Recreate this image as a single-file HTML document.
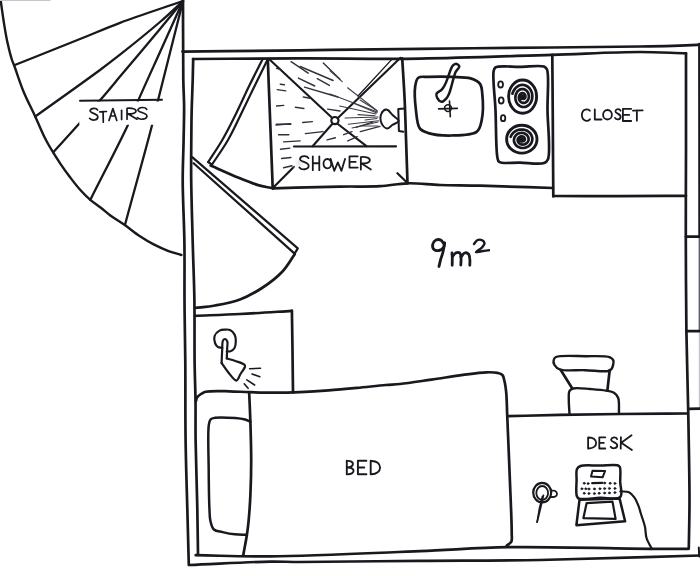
<!DOCTYPE html>
<html><head><meta charset="utf-8"><title>Floor plan</title>
<style>
html,body{margin:0;padding:0;background:#fff;}
body{width:700px;height:576px;overflow:hidden;font-family:"Liberation Sans",sans-serif;}
svg{display:block;}
</style></head>
<body>
<svg width="700" height="576" viewBox="0 0 700 576" stroke-linecap="round" stroke-linejoin="round">
<defs><radialGradient id="smudge"><stop offset="0" stop-color="#e4e0e3"/><stop offset="1" stop-color="#ffffff" stop-opacity="0"/></radialGradient></defs>
<rect x="0" y="0" width="700" height="576" fill="#fff"/>
<path d="M0.5,-1 C1.5,6.3 2.5,13.6 3.6,20.8 C4.7,27.8 5.8,35 7.3,41.7 C8.7,48 10.6,55.7 12,60 C12.8,62.4 13.2,63 14.2,65.5 C16.2,70.9 19.9,82.8 23.4,91.2 C26.9,99.8 31.5,108.3 35.2,116.4 C38.7,124 41.9,132.1 45.2,138.5 C47.8,143.7 50.3,147.8 53,152.2 C55.5,156.4 58.1,160.3 60.8,164.3 C63.6,168.4 66.4,172.4 69.5,176.5 C72.8,180.8 76.3,185.5 79.9,189.5 C83.3,193.3 86.7,196.8 90.3,199.9 C93.7,202.8 97.4,205.1 100.8,207.7 C104,210.2 106.5,212.6 110,215.2 C114.3,218.4 119.9,221.7 124.8,225.1 C129.8,228.6 134.6,232.7 139.6,236 C144.3,239.1 148.9,241.9 153.7,244.4 C158.4,246.8 163.2,249 167.9,250.8 C172.4,252.5 176.9,253.6 181.4,255" stroke="#18181f" stroke-width="2.4" fill="none"/>
<path d="M183,1 C162,8.3 138.5,15.8 120,22.8 C105.1,28.4 95,33 80,39 C60.8,46.7 36.1,56.5 14.2,65.3" stroke="#18181f" stroke-width="2.3" fill="none"/>
<path d="M183,1 C175.3,8 168.8,14.4 160,22 C148.6,31.8 131.1,45.9 120,54.7 C112.2,60.8 108.6,63.6 100,70 C84.6,81.4 56.8,101.1 35.2,116.6" stroke="#18181f" stroke-width="2.3" fill="none"/>
<path d="M183,1 C175.3,10.3 168.8,18.5 160,29 C148.5,42.8 131.1,63.5 120,76.6 C112.2,85.9 106.7,92.6 100,100.3 C93.6,107.8 87.7,114.3 80.7,122.1 C72.4,131.4 62.4,142.2 53.2,152.3" stroke="#18181f" stroke-width="2.3" fill="none"/>
<path d="M183,1 C175.5,17.7 168,34.4 160.5,51 C153.1,67.4 144.3,86.5 138.4,100.1 C134.2,109.8 132.7,114.6 127.9,125 C119.4,143.4 102.8,174.9 90.3,199.9" stroke="#18181f" stroke-width="2.3" fill="none"/>
<path d="M183,1 C174.8,33.8 163.8,77.1 158.3,99.3 C155.5,110.6 155,113.7 152.1,125 C146.4,147.4 134,191.5 125,224.8" stroke="#18181f" stroke-width="2.3" fill="none"/>
<path d="M0,0.4 L50,0.4" stroke="#c4c4cc" stroke-width="1.2" fill="none"/>
<rect x="79.3" y="101.5" width="83.5" height="23.3" fill="#fff"/>
<path d="M80,100.7 L162,99.8" stroke="#18181f" stroke-width="2" fill="none"/>
<path d="M0.92,0.16 C0.78,-0.04 0.2,-0.04 0.1,0.2 C0.02,0.44 0.95,0.42 0.94,0.72 C0.93,1.02 0.25,1.06 0.04,0.84" transform="translate(89.2 108.1) scale(9.200 12.200)" stroke="#18181f" stroke-width="1.7" fill="none" vector-effect="non-scaling-stroke"/>
<path d="M0,0.04 L1,0 M0.5,0.02 L0.53,1" transform="translate(99.8 111.5) scale(6.600 10.700)" stroke="#18181f" stroke-width="1.7" fill="none" vector-effect="non-scaling-stroke"/>
<path d="M0,1 L0.5,0 L1,1 M0.22,0.62 L0.78,0.62" transform="translate(109 108.6) scale(7.800 11.900)" stroke="#18181f" stroke-width="1.7" fill="none" vector-effect="non-scaling-stroke"/>
<path d="M0.5,0 L0.5,1" transform="translate(120.1 110.3) scale(3.000 9.200)" stroke="#18181f" stroke-width="1.7" fill="none" vector-effect="non-scaling-stroke"/>
<path d="M0.06,1 L0.06,0.02 C0.55,-0.04 0.95,0.1 0.9,0.3 C0.85,0.52 0.35,0.55 0.1,0.5 L1,1" transform="translate(126.4 108) scale(10.600 11.200)" stroke="#18181f" stroke-width="1.7" fill="none" vector-effect="non-scaling-stroke"/>
<path d="M0.92,0.16 C0.78,-0.04 0.2,-0.04 0.1,0.2 C0.02,0.44 0.95,0.42 0.94,0.72 C0.93,1.02 0.25,1.06 0.04,0.84" transform="translate(136.9 107.3) scale(10.700 12.200)" stroke="#18181f" stroke-width="1.7" fill="none" vector-effect="non-scaling-stroke"/>
<path d="M183,1 C183.1,27.3 183,60.8 183.3,80 C183.5,91 184,96.8 184.1,106 C184.2,116.6 183.8,128.2 183.6,140 C183.4,152.8 182.7,165.2 182.7,180 C182.7,198.4 184.1,221.7 184.4,242 C184.7,261.7 184.4,280.3 184.5,300 C184.6,320.3 185.1,340.1 185.3,362 C185.5,386.5 185.2,414.9 185.6,440 C185.9,463.4 186.7,486.3 187.3,508 C187.8,527.8 188.3,546 188.8,565" stroke="#18181f" stroke-width="2.7" fill="none"/>
<path d="M182.5,51.6 C221.7,51.2 260.6,50.8 300,50.3 C339.8,49.8 379,49.3 420,48.8 C463,48.3 512.4,47.9 552,47.5 C584.3,47.2 613.8,47 640,46.5 C661.1,46.1 689,45.2 697,44.8 C699.1,44.7 699.7,44.6 701,44.5" stroke="#18181f" stroke-width="2.7" fill="none"/>
<path d="M699.3,44 L699.5,237" stroke="#18181f" stroke-width="2.4" fill="none"/>
<path d="M699.5,237 L699.5,331" stroke="#60606a" stroke-width="1.8" fill="none"/>
<path d="M699.5,331 L699.5,408" stroke="#c4c4cc" stroke-width="1.4" fill="none"/>
<path d="M698.8,547.5 L699.2,556.5" stroke="#18181f" stroke-width="2" fill="none"/>
<path d="M189.3,565 C216.2,563.9 249.6,561.9 270,561.6 C282.4,561.4 286.7,562 300,562 C326.7,562 380,561.1 420,560.8 C460,560.5 497.1,560.7 540,560 C589.5,559.1 646.7,557 700,555.5" stroke="#18181f" stroke-width="2.7" fill="none"/>
<path d="M193.2,59 C193,66 192.9,72.2 192.7,80 C192.4,90 191.8,103.4 191.6,114 C191.4,123.2 191.4,130.4 191.3,140 C191.2,151.9 191,165.2 191.2,180 C191.4,198.4 192.2,221.7 192.7,242 C193.2,261.7 194.1,280.3 194.4,300 C194.7,320.3 194.4,343.9 194.6,362 C194.8,376.2 195.3,387.2 195.5,400 C195.7,413.2 195.4,424.9 195.6,440 C195.9,459.7 196.9,487.4 197.3,508 C197.6,525.1 197.8,539.3 198,555" stroke="#18181f" stroke-width="2.7" fill="none"/>
<path d="M193,59 C228.7,58.8 263.3,58.5 300,58.4 C338.9,58.3 379.1,59.2 420,58.6 C463,58 512.4,56 552,54.8 C584.3,53.8 615.4,52 640,52 C657.8,52 670.7,52.9 686,53.3" stroke="#18181f" stroke-width="2.7" fill="none"/>
<path d="M686,53.3 C686,85.5 686,118.6 686,150 C686,179.8 685.7,207.4 685.8,237 C685.9,267.7 686,301 686.4,331 C686.8,358.5 687.7,382.8 688.2,410 C688.7,439 689.5,474.6 689.5,500 C689.5,518.6 689,532.3 688.8,548.5" stroke="#18181f" stroke-width="2.7" fill="none"/>
<path d="M195.7,555.2 C220.5,555.6 240.9,556.7 270,556.4 C311.3,556 376.6,552.9 420,551.2 C453.2,549.9 475.1,547.8 508,547.2 C550.1,546.5 619.9,548.6 652,548.8 C668.2,548.9 676.3,548.8 688.5,548.8" stroke="#18181f" stroke-width="2.7" fill="none"/>
<path d="M686,236.6 L700,236.6" stroke="#18181f" stroke-width="2.7" fill="none"/>
<path d="M686.4,331.2 L700,331.2" stroke="#18181f" stroke-width="2.7" fill="none"/>
<path d="M688.5,408.8 L700,408.6" stroke="#18181f" stroke-width="2.7" fill="none"/>
<path d="M267.8,59.5 C268.7,83 269.6,107.6 270.5,130 C271.3,150.4 272,168.9 272.7,188.3" stroke="#18181f" stroke-width="2.7" fill="none"/>
<path d="M402.2,58.3 C403,71.8 404,85.6 404.6,98.8 C405.2,111.3 405.5,122.4 405.9,135.4 C406.4,150.3 407,167.3 407.5,183.3" stroke="#18181f" stroke-width="2.7" fill="none"/>
<path d="M272.7,188.3 C295.1,187.7 320.5,186.9 340,186.6 C355.1,186.3 367.9,186.9 380,186.2 C390,185.6 397.9,183.6 407.5,183.3 C417.9,183 428.6,184.6 440,185 C452.6,185.4 464.7,185.3 480,185.7 C500.7,186.2 528.7,187.2 553,188" stroke="#18181f" stroke-width="2.7" fill="none"/>
<path d="M269.3,59.3 L331.5,117.2" stroke="#18181f" stroke-width="2.1" fill="none"/>
<path d="M337.8,124 L366.5,146.2" stroke="#18181f" stroke-width="2.1" fill="none"/>
<path d="M400.5,57.8 L337.6,118.2" stroke="#18181f" stroke-width="2.1" fill="none"/>
<path d="M392.5,58.6 L358,96" stroke="#18181f" stroke-width="1.3" fill="none"/>
<path d="M332,124.2 L312.6,146.2" stroke="#18181f" stroke-width="2.1" fill="none"/>
<ellipse cx="334.9" cy="120.6" rx="3.6" ry="3.6" stroke="#18181f" stroke-width="2.2" fill="none"/>
<path d="M273.3,187.5 L294,166.8" stroke="#18181f" stroke-width="2.2" fill="none"/>
<path d="M397.4,173.2 L407.5,183" stroke="#18181f" stroke-width="2.2" fill="none"/>
<ellipse cx="299" cy="163" rx="8" ry="9" fill="url(#smudge)"/>
<path d="M294,146.5 L396,146.3" stroke="#18181f" stroke-width="2.2" fill="none"/>
<path d="M0.92,0.16 C0.78,-0.04 0.2,-0.04 0.1,0.2 C0.02,0.44 0.95,0.42 0.94,0.72 C0.93,1.02 0.25,1.06 0.04,0.84" transform="translate(299 156) scale(10.300 13.600)" stroke="#18181f" stroke-width="1.8" fill="none" vector-effect="non-scaling-stroke"/>
<path d="M0,0 L0,1 M1,0 L1,1 M0,0.5 L1,0.5" transform="translate(312.8 156.3) scale(6.500 13.900)" stroke="#18181f" stroke-width="1.8" fill="none" vector-effect="non-scaling-stroke"/>
<path d="M0.5,0 C-0.15,0 -0.15,1 0.5,1 C1.15,1 1.15,0 0.5,0 Z" transform="translate(323.4 159) scale(7.900 9.300)" stroke="#18181f" stroke-width="1.8" fill="none" vector-effect="non-scaling-stroke"/>
<path d="M0,0 L0.25,1 L0.5,0.3 L0.75,1 L1,0" transform="translate(330.6 158.8) scale(14.500 12.000)" stroke="#18181f" stroke-width="1.8" fill="none" vector-effect="non-scaling-stroke"/>
<path d="M1,0 L0,0 L0,1 L1,1 M0,0.5 L0.75,0.5" transform="translate(349.5 156.3) scale(8.200 11.300)" stroke="#18181f" stroke-width="1.8" fill="none" vector-effect="non-scaling-stroke"/>
<path d="M0.06,1 L0.06,0.02 C0.55,-0.04 0.95,0.1 0.9,0.3 C0.85,0.52 0.35,0.55 0.1,0.5 L1,1" transform="translate(360.2 156.9) scale(10.700 12.600)" stroke="#18181f" stroke-width="1.8" fill="none" vector-effect="non-scaling-stroke"/>
<path d="M262.8,58.8 C258.2,68 253.5,77 249,86.3 C244.4,95.7 240,105.8 235.4,115 C231.1,123.7 226.9,132 222.3,140 C217.8,147.7 212.9,154.7 208.2,162" stroke="#18181f" stroke-width="2.2" fill="none"/>
<path d="M267.5,59.7 C263,68.9 258.5,78 254,87.2 C249.5,96.4 245,106 240.6,115 C236.4,123.6 232.7,131.8 228,140 C223.2,148.4 217.3,156.5 211.9,164.7" stroke="#18181f" stroke-width="2.2" fill="none"/>
<path d="M208.2,162 L211.9,164.7" stroke="#18181f" stroke-width="2.2" fill="none"/>
<path d="M210.7,165.5 C220,169.6 230.2,174.3 238.7,177.8 C245.7,180.7 252,183.3 258.1,185.1 C263.3,186.6 267.8,187.2 272.7,188.3" stroke="#18181f" stroke-width="2.7" fill="none"/>
<path d="M291.1,61.7 L308.2,73.2" stroke="#30303c" stroke-width="1.4" fill="none"/>
<path d="M300.2,66.5 L333.1,80.5" stroke="#30303c" stroke-width="1.4" fill="none"/>
<path d="M298.4,78.1 L314.8,86" stroke="#30303c" stroke-width="1.4" fill="none"/>
<path d="M317.3,78.7 L329.4,85.4" stroke="#30303c" stroke-width="1.4" fill="none"/>
<path d="M304.5,87.2 L337.9,97" stroke="#30303c" stroke-width="1.4" fill="none"/>
<path d="M323.3,62.9 L340,79.3" stroke="#30303c" stroke-width="1.4" fill="none"/>
<path d="M327.6,109.1 L340,111" stroke="#30303c" stroke-width="1.4" fill="none"/>
<path d="M276.5,68.4 L280.8,69.6" stroke="#30303c" stroke-width="1.4" fill="none"/>
<path d="M280.2,84.2 L284.4,84.8" stroke="#30303c" stroke-width="1.4" fill="none"/>
<path d="M277.2,89.6 L285.7,90.9" stroke="#30303c" stroke-width="1.4" fill="none"/>
<path d="M303.3,97 L310,98.2" stroke="#30303c" stroke-width="1.4" fill="none"/>
<path d="M276.5,106 L283.8,105.4" stroke="#30303c" stroke-width="1.4" fill="none"/>
<path d="M295.4,107.3 L303.9,108.5" stroke="#30303c" stroke-width="1.4" fill="none"/>
<path d="M276,125 L290.5,123.7" stroke="#30303c" stroke-width="1.4" fill="none"/>
<path d="M302.7,122.5 L312.4,121.6" stroke="#30303c" stroke-width="1.4" fill="none"/>
<path d="M276.4,124.3 L290.9,124.3" stroke="#30303c" stroke-width="1.4" fill="none"/>
<path d="M278.5,134.7 L288.8,134.7" stroke="#30303c" stroke-width="1.4" fill="none"/>
<path d="M283.6,141.9 L300.2,140.9" stroke="#30303c" stroke-width="1.4" fill="none"/>
<path d="M305.4,133.6 L323,131.6" stroke="#30303c" stroke-width="1.4" fill="none"/>
<path d="M327.1,139.9 L335.4,137.8" stroke="#30303c" stroke-width="1.4" fill="none"/>
<path d="M343.7,134.7 L352,131.6" stroke="#30303c" stroke-width="1.4" fill="none"/>
<path d="M347.8,140.9 L357.2,136.7" stroke="#30303c" stroke-width="1.4" fill="none"/>
<path d="M356.1,127.4 L372.7,122.2" stroke="#30303c" stroke-width="1.4" fill="none"/>
<path d="M360.3,131.6 L380,126.4" stroke="#30303c" stroke-width="1.4" fill="none"/>
<path d="M280.5,149.2 L289.9,148.1" stroke="#30303c" stroke-width="1.4" fill="none"/>
<path d="M281.6,158.5 L290.9,157.5" stroke="#30303c" stroke-width="1.4" fill="none"/>
<path d="M283.6,167.8 L292,165.7" stroke="#30303c" stroke-width="1.4" fill="none"/>
<path d="M347.6,87.8 L377.4,111" stroke="#3c3c46" stroke-width="1.1" fill="none"/>
<path d="M330,70.8 L342.2,81.7" stroke="#3c3c46" stroke-width="1.1" fill="none"/>
<path d="M330,93.9 L377.4,112.1" stroke="#3c3c46" stroke-width="1.1" fill="none"/>
<path d="M339.7,106 L376,114" stroke="#3c3c46" stroke-width="1.1" fill="none"/>
<path d="M354.3,103.6 L376.8,113" stroke="#3c3c46" stroke-width="1.1" fill="none"/>
<path d="M358,114.6 L375,115.8" stroke="#3c3c46" stroke-width="1.1" fill="none"/>
<path d="M348.2,124.3 L378.6,120.7" stroke="#3c3c46" stroke-width="1.1" fill="none"/>
<path d="M345,118 L378,117" stroke="#3c3c46" stroke-width="1.1" fill="none"/>
<path d="M352,128 L378,122" stroke="#3c3c46" stroke-width="1.1" fill="none"/>
<path d="M362,126 L378,126" stroke="#3c3c46" stroke-width="1.1" fill="none"/>
<path d="M360,100 L376,110" stroke="#3c3c46" stroke-width="1.1" fill="none"/>
<path d="M365,120 L377,118.5" stroke="#3c3c46" stroke-width="1.1" fill="none"/>
<path d="M398.7,121.2 C398.9,119.6 394.7,117.2 392.8,115.3 C391.1,113.6 389.4,111.1 388,110.2 C387.2,109.7 386.6,109.3 385.8,109.5 C384.5,109.8 382.1,111.8 381.3,113.8 C380.3,116.1 380.4,120.6 381.5,123.1 C382.5,125.4 385.1,128.4 387,128.6 C388.8,128.8 390.8,125.9 392.8,124.7 C394.7,123.5 398.5,122.7 398.7,121.2 Z" stroke="#18181f" stroke-width="2" fill="none"/>
<path d="M404.9,108.4 L398.3,109.1 L398.9,131 L403.4,131.7" stroke="#18181f" stroke-width="2" fill="none"/>
<path d="M418.3,77.7 C420.5,76 424.3,77.1 428.4,76.9 C434.6,76.7 444.5,76.6 451.9,76.9 C458.5,77.2 465.6,76.8 470.6,78.4 C474.4,79.6 478.1,81.2 480,83.9 C481.9,86.5 481.9,89.8 482.3,94 C483,100.7 483.1,113.8 481.6,120.6 C480.6,125.2 480.2,129.1 476.9,131.6 C472.2,135.3 460.1,135.3 451.9,135.5 C444,135.7 434.2,134.9 428.4,133.1 C424.7,131.9 421.9,131.2 419.8,128.4 C416.9,124.5 416.7,116.3 415.9,109.7 C415,102.4 414.3,92.1 415.2,86.2 C415.8,82.6 416.2,79.3 418.3,77.7 Z" stroke="#18181f" stroke-width="2.7" fill="none"/>
<path d="M456.6,63.9 C457.6,64.1 459.2,65.5 459.3,66.6 C459.4,68 456.8,69.8 455.8,71.7 C454.7,73.8 454.2,76.3 453.4,78.8 C452.6,81.4 451.9,84.6 451.1,87.3 C450.4,89.8 449.7,92.4 448.8,94.4 C448,95.9 447.5,97.1 446.4,98.3 C445.2,99.6 443.2,101.9 441.7,101.8 C440.1,101.7 437.8,99.1 437,97.5 C436.4,96.3 436.1,94.8 436.6,93.6 C437.2,92.1 440.3,91.2 441.7,89.7 C443,88.3 443.8,86.8 444.8,85 C446,82.8 447,79.9 448,77.2 C449.1,74.4 450,70.8 451.1,68.6 C451.8,67.1 452.4,65.9 453.4,65.1 C454.3,64.4 455.6,63.7 456.6,63.9 Z" stroke="#18181f" stroke-width="2.5" fill="none"/>
<ellipse cx="448" cy="108.1" rx="3.4" ry="3.4" stroke="#18181f" stroke-width="1.6" fill="none"/>
<path d="M438.6,108.9 L457.3,108.4" stroke="#18181f" stroke-width="1.6" fill="none"/>
<path d="M449.5,101.1 L450.3,116.7" stroke="#18181f" stroke-width="1.6" fill="none"/>
<path d="M495.5,67.4 C499,65.1 511.9,67 520,66.9 C528,66.8 540,65 544,66.6 C545.7,67.3 546.2,67.7 547,69.5 C549.4,75.1 547.3,95.8 547.5,110 C547.7,125.6 550.9,152.2 548,159.2 C547,161.5 546.2,162.2 544.1,163 C539.7,164.8 527.7,162.8 520,162.6 C512.8,162.4 502.4,164.2 499.3,162 C497.7,160.9 497.9,159.8 497.4,157.3 C495.8,149.8 496.2,125 495.5,110 C494.9,96.5 492.4,77.6 493.6,71.4 C494,69.3 494,68.4 495.5,67.4 Z" stroke="#18181f" stroke-width="2.7" fill="none"/>
<ellipse cx="500.6" cy="84.4" rx="2.4" ry="3.1" stroke="#18181f" stroke-width="1.8" fill="none"/>
<ellipse cx="501.2" cy="100.4" rx="2.4" ry="3.1" stroke="#18181f" stroke-width="1.8" fill="none"/>
<ellipse cx="503.1" cy="118.2" rx="2.2" ry="3" stroke="#18181f" stroke-width="1.8" fill="none"/>
<ellipse cx="522.6" cy="96.6" rx="14" ry="16.6" stroke="#18181f" stroke-width="2.9" fill="none"/>
<path d="M512.4,93.7 L513.1,91.8 L514,90.1 L515.1,88.6 L516.3,87.3 L517.7,86.3 L519.2,85.5 L520.8,85 L522.4,84.9 L524,85 L525.6,85.5 L527,86.2 L528.4,87.2 L529.5,88.3 L530.5,89.7 L531.3,91.3 L531.9,92.9 L532.2,94.6 L532.3,96.4 L532.2,98.1 L531.9,99.8 L531.3,101.4 L530.6,102.8 L529.6,104.1 L528.6,105.1 L527.4,106 L526.1,106.6 L524.8,106.9 L523.5,107 L522.2,106.9 L520.9,106.5 L519.7,105.9 L518.6,105.1 L517.6,104.1 L516.8,103 L516.2,101.7 L515.7,100.3 L515.5,98.9 L515.4,97.5 L515.5,96.1 L515.8,94.7 L516.3,93.5 L516.9,92.3 L517.6,91.3 L518.5,90.5 L519.5,89.8 L520.5,89.3 L521.6,89.1 L522.6,89 L523.7,89.1 L524.7,89.5 L525.6,90 L526.5,90.6 L527.2,91.4 L527.8,92.3 L528.3,93.3 L528.6,94.4 L528.8,95.5 L528.9,96.6 L528.8,97.7 L528.5,98.7 L528.1,99.7 L527.6,100.6 L527.1,101.3 L526.4,101.9 L525.6,102.4 L524.9,102.7 L524.1,102.9 L523.3,102.9 L522.5,102.8 L521.8,102.5 L521.1,102.1 L520.5,101.6 L520,101 L519.5,100.4 L519.2,99.6 L519,98.8 L518.9,98.1 L518.9,97.3 L519,96.5 L519.2,95.8 L519.5,95.1 L519.8,94.6 L520.2,94.1 L520.7,93.7 L521.2,93.4 L521.8,93.2 L522.3,93.1 L522.8,93.1 L523.3,93.2 L523.8,93.5 L524.2,93.7 L524.6,94.1 L524.9,94.5 L525.1,94.9 L525.3,95.4 L525.4,95.9 L525.4,96.4 L525.4,96.8 L525.3,97.3 L525.2,97.7 L525,98 L524.7,98.3 L524.5,98.6 L524.2,98.7 L523.9,98.8 L523.6,98.9 L523.3,98.9 L523.1,98.8" stroke="#18181f" stroke-width="2.7" fill="none"/>
<ellipse cx="522" cy="97.2" rx="2.4" ry="2.2" stroke="#18181f" stroke-width="1.4" fill="#18181f"/>
<ellipse cx="521.8" cy="139.2" rx="15.2" ry="13.9" stroke="#18181f" stroke-width="2.9" fill="none"/>
<path d="M510.7,136.8 L511.4,135.3 L512.4,133.8 L513.6,132.5 L514.9,131.5 L516.5,130.6 L518.1,130 L519.8,129.6 L521.6,129.5 L523.3,129.6 L525,130 L526.6,130.5 L528,131.4 L529.3,132.4 L530.4,133.5 L531.2,134.8 L531.8,136.2 L532.2,137.6 L532.3,139.1 L532.2,140.5 L531.8,141.9 L531.2,143.2 L530.4,144.4 L529.4,145.5 L528.3,146.4 L527,147.1 L525.6,147.6 L524.2,147.9 L522.7,148 L521.3,147.9 L519.9,147.6 L518.6,147.1 L517.4,146.4 L516.4,145.6 L515.5,144.6 L514.8,143.5 L514.3,142.4 L514,141.2 L513.9,140 L514.1,138.8 L514.4,137.7 L514.9,136.7 L515.6,135.7 L516.4,134.8 L517.3,134.1 L518.4,133.6 L519.5,133.2 L520.6,133 L521.8,132.9 L522.9,133 L524,133.3 L525,133.7 L526,134.3 L526.8,134.9 L527.4,135.7 L528,136.5 L528.3,137.4 L528.5,138.3 L528.6,139.3 L528.5,140.2 L528.2,141 L527.8,141.9 L527.2,142.6 L526.6,143.2 L525.9,143.7 L525.1,144.1 L524.2,144.4 L523.4,144.5 L522.5,144.6 L521.7,144.5 L520.9,144.2 L520.1,143.9 L519.5,143.5 L518.9,143 L518.4,142.4 L518.1,141.8 L517.8,141.1 L517.7,140.5 L517.7,139.8 L517.8,139.2 L518,138.6 L518.3,138 L518.7,137.6 L519.2,137.1 L519.7,136.8 L520.3,136.6 L520.8,136.4 L521.4,136.3 L522,136.4 L522.5,136.5 L523.1,136.6 L523.5,136.9 L523.9,137.2 L524.3,137.5 L524.5,137.9 L524.7,138.3 L524.8,138.7 L524.8,139.1 L524.8,139.5 L524.7,139.8 L524.5,140.2 L524.3,140.5 L524.1,140.7 L523.8,140.9 L523.5,141 L523.2,141.1 L522.9,141.2 L522.6,141.2 L522.3,141.1" stroke="#18181f" stroke-width="2.7" fill="none"/>
<ellipse cx="521.2" cy="139.8" rx="2.4" ry="2.2" stroke="#18181f" stroke-width="1.4" fill="#18181f"/>
<path d="M552.3,54.8 C552.5,76.5 552.6,97.4 552.8,120 C553,144.5 553.1,171 553.3,196.5" stroke="#18181f" stroke-width="2.7" fill="none"/>
<path d="M553.3,196 C575.5,196.1 597.8,196.2 620,196.2 C642.1,196.2 664,195.9 686,195.8" stroke="#18181f" stroke-width="2.7" fill="none"/>
<path d="M0.95,0.14 C0.78,-0.06 0.06,-0.06 0.04,0.5 C0.06,1.06 0.78,1.06 0.97,0.86" transform="translate(581.5 109.2) scale(8.800 11.750)" stroke="#18181f" stroke-width="1.8" fill="none" vector-effect="non-scaling-stroke"/>
<path d="M0,0 L0,1 L1,1" transform="translate(594.8 109.5) scale(6.700 10.000)" stroke="#18181f" stroke-width="1.8" fill="none" vector-effect="non-scaling-stroke"/>
<path d="M0.5,0 C-0.15,0 -0.15,1 0.5,1 C1.15,1 1.15,0 0.5,0 Z" transform="translate(603 110) scale(9.000 9.500)" stroke="#18181f" stroke-width="1.8" fill="none" vector-effect="non-scaling-stroke"/>
<path d="M0.92,0.16 C0.78,-0.04 0.2,-0.04 0.1,0.2 C0.02,0.44 0.95,0.42 0.94,0.72 C0.93,1.02 0.25,1.06 0.04,0.84" transform="translate(614.8 109) scale(6.200 10.600)" stroke="#18181f" stroke-width="1.8" fill="none" vector-effect="non-scaling-stroke"/>
<path d="M1,0 L0,0 L0,1 L1,1 M0,0.5 L0.75,0.5" transform="translate(622.9 108.8) scale(8.300 12.200)" stroke="#18181f" stroke-width="1.8" fill="none" vector-effect="non-scaling-stroke"/>
<path d="M0,0.04 L1,0 M0.4,0.02 L0.4,1" transform="translate(633 110.3) scale(9.700 10.400)" stroke="#18181f" stroke-width="1.8" fill="none" vector-effect="non-scaling-stroke"/>
<path d="M444,244 C443,242.7 442.3,240.9 441,240.2 C439.7,239.5 437.4,239.4 436,240 C434.6,240.6 433.2,242.5 432.8,244 C432.4,245.6 432.9,248.4 434,249.5 C435,250.5 437.4,250.8 439,250.5 C440.6,250.2 442.6,248.8 443.5,247.5 C444.4,246.3 444.2,244.5 444.6,243" stroke="#18181f" stroke-width="2.8" fill="none"/>
<path d="M444.6,243 C444.1,246 443.7,249.1 443,252 C442.3,254.8 441.2,257.5 440.5,260 C439.9,262.3 439.5,264.3 439,266.5" stroke="#18181f" stroke-width="2.8" fill="none"/>
<path d="M452,253 C452.1,255 452.3,257 452.3,259 C452.3,261.1 452.2,263.2 452.2,265.3" stroke="#18181f" stroke-width="2.8" fill="none"/>
<path d="M452.5,256.5 C453.7,255.3 454.7,253.3 456,252.8 C457.2,252.4 459.2,252.5 460,253.3 C460.9,254.1 460.8,256.3 461,258 C461.2,260.1 460.9,262.7 460.8,265" stroke="#18181f" stroke-width="2.8" fill="none"/>
<path d="M461,257 C462.2,255.7 463.1,253.4 464.5,253 C465.7,252.6 467.6,253.1 468.5,254 C469.5,255 469.6,257.2 469.8,259 C470.1,261 469.8,263.2 469.8,265.3" stroke="#18181f" stroke-width="2.8" fill="none"/>
<path d="M474,244 C475.2,242.7 476.1,240.8 477.5,240.2 C478.8,239.6 480.8,239.6 482,240.2 C483.1,240.7 484.4,242.1 484.5,243.2 C484.6,244.5 483.2,246.1 482,247.5 C480.5,249.2 475.8,251.7 476,252.2 C476.2,252.6 479.5,251.5 481.5,251.2 C483.8,250.8 486.5,250.5 489,250.2" stroke="#18181f" stroke-width="2.4" fill="none"/>
<path d="M195,308 C201.7,307.2 208,306.8 215,305.5 C222.9,304.1 232.1,302.5 240,299.5 C247.8,296.6 255,292.5 262,288 C269.1,283.4 276.4,277.9 282,272 C287.2,266.5 290.5,260.1 294.7,254.2" stroke="#18181f" stroke-width="2.7" fill="none"/>
<path d="M192.2,157.1 L297.8,248.4 L294.6,253.6 L193.6,163.2" stroke="#18181f" stroke-width="2.2" fill="none"/>
<path d="M195,315.8 C210,315.2 224.5,314.8 240,314 C256.7,313.2 274.6,311.9 291.9,310.8" stroke="#18181f" stroke-width="2.7" fill="none"/>
<path d="M291.9,310.8 C292.1,323.9 292.3,336.7 292.5,350 C292.7,363.9 292.8,378.3 293,392.4" stroke="#18181f" stroke-width="2.7" fill="none"/>
<path d="M222.3,347.8 C220.9,347.5 219.2,347.7 218,347 C216.7,346.2 215.6,344.6 215,343 C214.3,341.1 213.9,338.1 214.6,336 C215.3,333.9 217.6,331.6 219.5,330.6 C221.1,329.7 223.2,329.7 225,329.6 C226.7,329.5 228.5,329.3 230,330 C231.7,330.8 233.6,332.8 234.6,334.6 C235.6,336.4 235.8,338.8 235.8,341 C235.8,343.3 235.5,346.2 234.5,348 C233.6,349.5 231.9,350.8 230.5,351.3 C229.3,351.7 228,351.4 226.8,351.4" stroke="#18181f" stroke-width="2.2" fill="none"/>
<path d="M226.8,358.5 C226.9,355 227.1,351.1 227.2,348 C227.3,345.6 227.9,343.1 227.3,341.5 C226.9,340.4 226,339.1 225.2,339 C224.5,338.9 223.5,339.6 223,340.5 C222,342.2 222.4,346.6 222.2,350 C221.9,354 221.8,358.7 221.6,363" stroke="#18181f" stroke-width="2.2" fill="none"/>
<path d="M221.6,363 C223.7,366 225.6,369.1 228,372 C230.5,375 234.2,380.8 236.4,380.6 C238.2,380.4 239.1,376.3 240.5,374 C242,371.6 244.8,368.2 245,366.5 C245.1,365.7 244.9,365.2 244.3,364.6 C243.1,363.3 238.9,362.2 236,361.2 C233,360.2 229.9,359.4 226.8,358.5" stroke="#18181f" stroke-width="2.2" fill="none"/>
<path d="M249.6,368.8 L260.5,368.2" stroke="#18181f" stroke-width="1.6" fill="none"/>
<path d="M252,374 L259.8,376.8" stroke="#18181f" stroke-width="1.6" fill="none"/>
<path d="M246.8,379.8 L254.6,385" stroke="#18181f" stroke-width="1.6" fill="none"/>
<path d="M244.2,383.8 L248.1,388.3" stroke="#18181f" stroke-width="1.6" fill="none"/>
<path d="M196,401 C196.3,399.8 196.3,398.6 197,397.5 C197.8,396.2 199.5,395 201,394 C202.4,393.1 203.5,392.3 205.7,391.8 C210.5,390.7 221.7,391.2 229.3,391.3 C236.3,391.4 242.4,392 249.7,392.2 C258,392.4 267.8,392.6 276.4,392.6 C284.5,392.6 291.8,392.4 300,392.1 C309.1,391.7 319.1,391.1 328.6,390.4 C338.1,389.7 347.6,388.8 357.1,387.9 C366.6,387 377.8,385.7 385.7,385 C391.3,384.5 394.3,384.6 400,384 C408.4,383.1 420.9,381.1 431.4,379.6 C441.9,378.1 453.2,376.2 462.9,374.9 C471.3,373.8 480,372.5 486.4,372.3 C490.7,372.2 494.5,372.2 497.4,372.9 C499.4,373.4 501.3,373.8 502.4,375 C503.6,376.3 503.8,378.3 504.3,380.4 C505.1,383.4 505.6,387 506.1,391.4 C506.8,397.8 506.8,405.1 507.2,415 C507.9,431.8 509.2,462.1 510,483 C510.7,500.9 511.8,523.2 511.7,533 C511.7,537.1 512.4,539.5 511.3,541.7 C510.4,543.6 508.2,544.4 506.7,545.8" stroke="#18181f" stroke-width="2.7" fill="none"/>
<path d="M249.2,393.5 C249.6,402.3 250,410.3 250.3,420 C250.7,432 251.2,447.1 251.2,460 C251.2,472 250.9,484 250.4,494.7 C250,504 249.3,513.5 248.6,520.8 C248.1,526.2 247.7,529.6 246.9,534.7 C246,540.9 244.4,548.6 243.2,555.5" stroke="#18181f" stroke-width="2.7" fill="none"/>
<path d="M250.4,421.7 C248.6,421 247.1,420.1 245,419.5 C242.2,418.7 238.9,418.3 235,418 C229.5,417.6 219.2,417 215,417.8 C212.9,418.2 211.5,418.4 210.5,419.5 C209.4,420.7 209.2,422.2 208.8,425 C207.6,432.7 208.6,455.4 208.7,470 C208.8,483.7 209,500.9 209.5,510 C209.7,514.7 209.6,517.4 210.4,520.8 C211.1,523.9 211.8,527.6 213.9,529.5 C215.9,531.4 219.4,531.3 222.6,532.1 C226.3,533 230.6,533.9 234.7,534.3 C238.7,534.7 242.8,534.6 246.9,534.7" stroke="#18181f" stroke-width="2.5" fill="none"/>
<path d="M0,0 L0,1 M0,0.02 C0.95,-0.04 0.95,0.5 0.02,0.5 C1.05,0.45 1.05,1.04 0,1" transform="translate(346.8 460.7) scale(8.600 13.600)" stroke="#18181f" stroke-width="1.9" fill="none" vector-effect="non-scaling-stroke"/>
<path d="M1,0 L0,0 L0,1 L1,1 M0,0.5 L0.75,0.5" transform="translate(357.9 460.7) scale(8.500 13.600)" stroke="#18181f" stroke-width="1.9" fill="none" vector-effect="non-scaling-stroke"/>
<path d="M0,0 L0,1 M0,0.02 C1.25,-0.04 1.25,1.04 0,1" transform="translate(370.7 460.7) scale(10.000 13.600)" stroke="#18181f" stroke-width="1.9" fill="none" vector-effect="non-scaling-stroke"/>
<path d="M507.5,416.2 C525,415.8 541.9,415.3 560,414.9 C579.3,414.5 599.4,414.2 620,414 C641.8,413.8 664.9,413.7 687.4,413.5" stroke="#18181f" stroke-width="2.7" fill="none"/>
<path d="M556,357 C560.1,355 575.7,356.1 585,356.2 C593.6,356.3 605.7,355.5 610,357.3 C611.9,358.1 612.9,359 613.4,360.5 C614,362.5 612.7,367.3 611.5,369 C610.7,370.1 610.1,370.6 608.5,371 C604.5,372.1 593,370.4 585,370.2 C576.8,369.9 565.1,371.4 560,369.5 C557.3,368.5 555.5,366.8 554.5,365 C553.6,363.5 553.3,361.2 553.7,359.8 C554,358.6 554.5,357.7 556,357 Z" stroke="#18181f" stroke-width="2.4" fill="none"/>
<path d="M560.6,369.8 L572,388" stroke="#18181f" stroke-width="2.7" fill="none"/>
<path d="M609.7,370 L607.4,390.3" stroke="#18181f" stroke-width="2.7" fill="none"/>
<path d="M569.5,414 C569.3,409.3 568.7,404.2 568.8,400 C568.8,396.7 568.4,392.9 569.5,391 C570.3,389.7 571.3,389 573,388.5 C576.4,387.5 584.4,388.6 590,389 C595.4,389.4 601.6,389.8 606,390.6 C609.2,391.2 611.9,391.4 614,392.8 C615.9,394 617.3,395.6 618.2,398 C619.6,401.7 618.7,408.5 619,413.8" stroke="#18181f" stroke-width="2.4" fill="none"/>
<path d="M0,0 L0,1 M0,0.02 C1.25,-0.04 1.25,1.04 0,1" transform="translate(588.1 437.3) scale(8.600 11.200)" stroke="#18181f" stroke-width="1.8" fill="none" vector-effect="non-scaling-stroke"/>
<path d="M1,0 L0,0 L0,1 L1,1 M0,0.5 L0.75,0.5" transform="translate(599.3 437.3) scale(6.000 11.200)" stroke="#18181f" stroke-width="1.8" fill="none" vector-effect="non-scaling-stroke"/>
<path d="M0.92,0.16 C0.78,-0.04 0.2,-0.04 0.1,0.2 C0.02,0.44 0.95,0.42 0.94,0.72 C0.93,1.02 0.25,1.06 0.04,0.84" transform="translate(610.4 437.3) scale(7.300 11.200)" stroke="#18181f" stroke-width="1.8" fill="none" vector-effect="non-scaling-stroke"/>
<path d="M0.02,0.12 L0,0.9 M0.97,0 L0.05,0.5 L1,1" transform="translate(620.7 435.3) scale(11.200 14.800)" stroke="#18181f" stroke-width="1.8" fill="none" vector-effect="non-scaling-stroke"/>
<path d="M580.5,466 C584.2,464.6 593.7,465.7 600,465.6 C606,465.5 614.5,464.3 617.5,465.3 C618.7,465.7 619.2,465.9 619.8,467 C621.1,469.4 620.1,477 620.2,482 C620.3,486.9 623,494 620.4,496.8 C617.3,500.1 606.9,497.5 600,497.8 C593.1,498.1 582.3,500.1 579,498.6 C577.7,498 577.3,497.4 576.8,496 C575.7,493 576.5,484.8 576.6,480 C576.6,476 575.9,471.4 577,469 C577.7,467.5 578.7,466.7 580.5,466 Z" stroke="#18181f" stroke-width="2.5" fill="none"/>
<path d="M592.5,470.7 L605.1,471 L602.6,477.3 L591,476.6 Z" stroke="#18181f" stroke-width="2" fill="none"/>
<path d="M592.2,483.2 L602.3,482.8" stroke="#18181f" stroke-width="2.2" fill="none"/>
<ellipse cx="584.2" cy="483.3" rx="1.1" ry="1" stroke="#18181f" stroke-width="0.6" fill="#18181f"/>
<ellipse cx="588.1" cy="483.6" rx="1.1" ry="1" stroke="#18181f" stroke-width="0.6" fill="#18181f"/>
<ellipse cx="604.6" cy="483" rx="1.1" ry="1" stroke="#18181f" stroke-width="0.6" fill="#18181f"/>
<ellipse cx="610.1" cy="483.3" rx="1.1" ry="1" stroke="#18181f" stroke-width="0.6" fill="#18181f"/>
<ellipse cx="614.9" cy="483.4" rx="1.1" ry="1" stroke="#18181f" stroke-width="0.6" fill="#18181f"/>
<ellipse cx="581.9" cy="488.8" rx="1.1" ry="1" stroke="#18181f" stroke-width="0.6" fill="#18181f"/>
<ellipse cx="585.8" cy="488.8" rx="1.1" ry="1" stroke="#18181f" stroke-width="0.6" fill="#18181f"/>
<ellipse cx="588.9" cy="489" rx="1.1" ry="1" stroke="#18181f" stroke-width="0.6" fill="#18181f"/>
<ellipse cx="594.4" cy="488.9" rx="1.1" ry="1" stroke="#18181f" stroke-width="0.6" fill="#18181f"/>
<ellipse cx="599.9" cy="488.7" rx="1.1" ry="1" stroke="#18181f" stroke-width="0.6" fill="#18181f"/>
<ellipse cx="604.6" cy="488.6" rx="1.1" ry="1" stroke="#18181f" stroke-width="0.6" fill="#18181f"/>
<ellipse cx="609.4" cy="488.4" rx="1.1" ry="1" stroke="#18181f" stroke-width="0.6" fill="#18181f"/>
<ellipse cx="614.9" cy="488.4" rx="1.1" ry="1" stroke="#18181f" stroke-width="0.6" fill="#18181f"/>
<ellipse cx="584.2" cy="493.3" rx="1.1" ry="1" stroke="#18181f" stroke-width="0.6" fill="#18181f"/>
<ellipse cx="588.9" cy="493.5" rx="1.1" ry="1" stroke="#18181f" stroke-width="0.6" fill="#18181f"/>
<ellipse cx="594.4" cy="493.6" rx="1.1" ry="1" stroke="#18181f" stroke-width="0.6" fill="#18181f"/>
<ellipse cx="599.1" cy="493.3" rx="1.1" ry="1" stroke="#18181f" stroke-width="0.6" fill="#18181f"/>
<ellipse cx="604.6" cy="493.1" rx="1.1" ry="1" stroke="#18181f" stroke-width="0.6" fill="#18181f"/>
<ellipse cx="609.4" cy="492.9" rx="1.1" ry="1" stroke="#18181f" stroke-width="0.6" fill="#18181f"/>
<ellipse cx="614.9" cy="492.6" rx="1.1" ry="1" stroke="#18181f" stroke-width="0.6" fill="#18181f"/>
<path d="M579.5,499.8 L619.6,498.6 L625.1,521.3 L576.4,525.2 Z" stroke="#18181f" stroke-width="2.5" fill="none"/>
<path d="M586.6,503.2 L612.5,501.6 L615.6,518.9 L583.4,518.1 Z" stroke="#18181f" stroke-width="2.2" fill="none"/>
<path d="M620.4,491.4 C623.3,491.7 626.6,491.1 629,492.2 C631.3,493.3 633,495.6 634.5,497.7 C636.1,500 637.3,502.9 638.4,505.6 C639.5,508.3 640,510.9 641,514 C642.2,517.9 644.1,522.8 645,527 C645.8,530.8 645.4,534.4 646.5,538 C647.6,541.8 650.1,545.3 651.9,549" stroke="#18181f" stroke-width="2.2" fill="none"/>
<ellipse cx="542.2" cy="492.6" rx="9" ry="9.8" stroke="#18181f" stroke-width="2.2" fill="none"/>
<ellipse cx="542.2" cy="493" rx="5.9" ry="7" stroke="#18181f" stroke-width="1.8" fill="none"/>
<path d="M551,490.6 C552.3,490.7 553.8,490.3 554.8,490.8 C555.8,491.3 556.9,492.6 557,493.6 C557.1,494.6 556.2,496 555.3,496.6 C554.3,497.3 552.4,496.9 551,497" stroke="#18181f" stroke-width="1.8" fill="none"/>
<path d="M543.4,495.4 L540.5,508 L537.1,522.1" stroke="#18181f" stroke-width="1.8" fill="none"/>
<path d="M542.3,496.5 L539.2,509 L537.1,522.1" stroke="#18181f" stroke-width="1.4" fill="none"/>
</svg>
</body></html>
